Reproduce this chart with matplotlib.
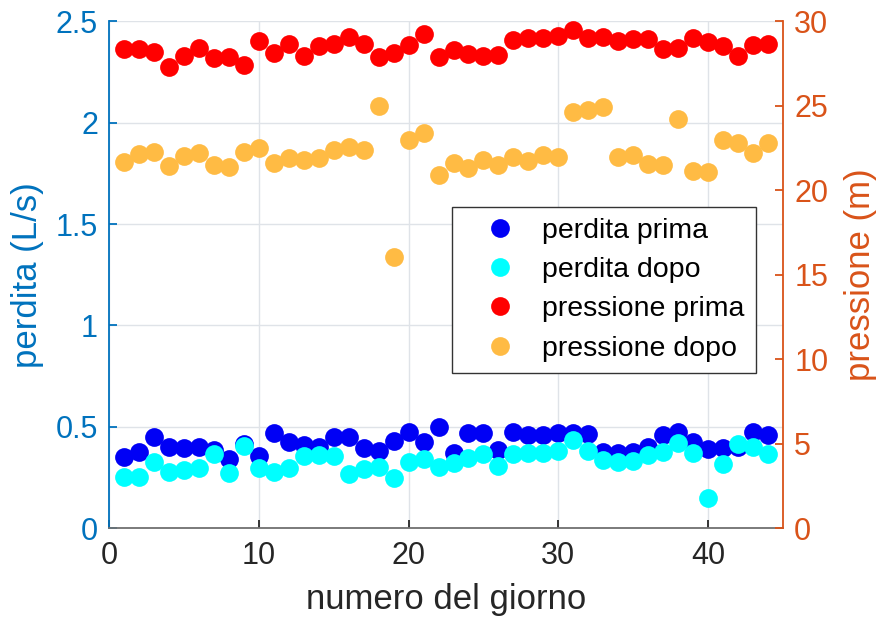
import numpy as np
import matplotlib
matplotlib.use("Agg")
from matplotlib import pyplot as plt

plt.rcParams['font.family'] = ['Liberation Sans', 'DejaVu Sans']

giorni = np.arange(1, 45)

# perdita (L/s)
perdita_prima = [0.352, 0.377, 0.448, 0.401, 0.393, 0.398, 0.385, 0.339, 0.413, 0.355,
                 0.470, 0.426, 0.410, 0.401, 0.451, 0.451, 0.393, 0.382, 0.431, 0.472,
                 0.426, 0.500, 0.369, 0.467, 0.467, 0.385, 0.475, 0.459, 0.459, 0.467,
                 0.470, 0.464, 0.377, 0.369, 0.377, 0.401, 0.459, 0.475, 0.426, 0.388,
                 0.393, 0.401, 0.472, 0.459]
perdita_dopo = [0.253, 0.253, 0.327, 0.278, 0.286, 0.298, 0.364, 0.273, 0.405, 0.295,
                0.278, 0.298, 0.355, 0.360, 0.355, 0.267, 0.291, 0.303, 0.245, 0.327,
                0.339, 0.303, 0.319, 0.344, 0.364, 0.308, 0.365, 0.369, 0.369, 0.382,
                0.434, 0.382, 0.336, 0.327, 0.332, 0.360, 0.377, 0.418, 0.372, 0.147,
                0.314, 0.413, 0.401, 0.364]

# pressione (m)
pressione_prima = [28.38, 28.36, 28.20, 27.30, 27.98, 28.42, 27.86, 27.88, 27.43, 28.83,
                   28.12, 28.67, 27.96, 28.52, 28.67, 29.07, 28.67, 27.92, 28.12, 28.61,
                   29.23, 27.90, 28.32, 28.08, 27.96, 28.02, 28.91, 29.01, 29.01, 29.15,
                   29.50, 29.01, 29.11, 28.85, 28.95, 28.95, 28.38, 28.42, 29.03, 28.81,
                   28.52, 27.98, 28.61, 28.67]
pressione_dopo = [21.70, 22.16, 22.26, 21.45, 22.04, 22.20, 21.50, 21.36, 22.26, 22.49,
                  21.60, 21.94, 21.80, 21.94, 22.39, 22.55, 22.39, 25.00, 16.07, 22.99,
                  23.38, 20.91, 21.60, 21.35, 21.80, 21.50, 22.00, 21.76, 22.10, 22.00,
                  24.66, 24.76, 24.96, 22.00, 22.10, 21.56, 21.49, 24.21, 21.15, 21.11,
                  22.99, 22.83, 22.24, 22.83]

col_sx = '#0072BD'
col_dx = '#D95319'
col_x = '#262626'
ms = 13.5

fig = plt.figure(figsize=(8.8, 6.28), dpi=100)
ax = fig.add_axes([0.1239, 0.1592, 0.7659, 0.8066])
ax2 = ax.twinx()

l1, = ax.plot(giorni, perdita_prima, 'o', color='#0000F5', ms=ms, mew=0, label='perdita prima')
l2, = ax.plot(giorni, perdita_dopo, 'o', color='#00FFFF', ms=ms, mew=0, label='perdita dopo')
l3, = ax2.plot(giorni, pressione_prima, 'o', color='#FF0000', ms=ms, mew=0, label='pressione prima')
l4, = ax2.plot(giorni, pressione_dopo, 'o', color='#FFBB44', ms=ms, mew=0, label='pressione dopo')

ax.set_xlim(0, 45)
ax.set_ylim(0, 2.5)
ax2.set_ylim(0, 30)
ax.set_xticks([0, 10, 20, 30, 40])
ax.set_yticks([0, 0.5, 1, 1.5, 2, 2.5])
ax.set_yticklabels(['0', '0.5', '1', '1.5', '2', '2.5'])
ax2.set_yticks([0, 5, 10, 15, 20, 25, 30])

ax.grid(True, color='#dfe3e8', linewidth=1)
ax.set_axisbelow(True)

# solo assi sinistro, destro e inferiore
ax.spines['top'].set_visible(False)
ax2.spines['top'].set_visible(False)
ax2.spines['left'].set_visible(False)
ax2.spines['bottom'].set_visible(False)
ax.spines['right'].set_visible(False)
ax.spines['left'].set_color(col_sx)
ax.spines['bottom'].set_color('#707070')
ax2.spines['right'].set_color(col_dx)
for sp in [ax.spines['left'], ax.spines['bottom'], ax2.spines['right']]:
    sp.set_linewidth(1.3)

ax.tick_params(axis='y', direction='in', length=6, width=1.3, colors=col_sx, labelsize=22, pad=8)
ax.tick_params(axis='x', direction='in', length=6, width=1.3, color=col_x, labelcolor=col_x, labelsize=22, pad=9)
ax2.tick_params(axis='y', direction='in', length=6, width=1.3, colors=col_dx, labelsize=22, pad=8)

ax.set_xlabel('numero del giorno', fontsize=25, color=col_x, labelpad=9)
ax.set_ylabel('perdita (L/s)', fontsize=25, color=col_sx, labelpad=8)
ax2.set_ylabel('pressione (m)', fontsize=25, color=col_dx, labelpad=11)

leg = ax2.legend(handles=[l1, l2, l3, l4], loc='upper left',
                 bbox_to_anchor=(0.509, 0.634), borderaxespad=0,
                 fontsize=20.5, frameon=True, fancybox=False,
                 edgecolor='#333333', framealpha=1,
                 handletextpad=0.15, labelspacing=0.46, borderpad=0.4,
                 handlelength=2.6)
leg.get_frame().set_linewidth(1.0)
leg.set_zorder(10)

fig.savefig('out.png', dpi=100)
